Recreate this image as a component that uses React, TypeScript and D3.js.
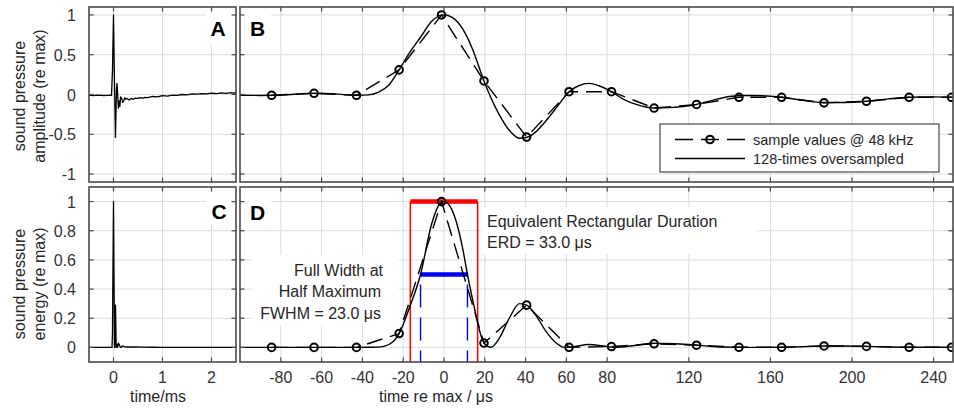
import React from 'react';
import * as d3 from 'd3';

const W = 954;
const H = 411;

// ---- Panel A: full impulse response, amplitude (time in ms)
const impTimeMs = [-0.5, -0.45, -0.4, -0.35, -0.3, -0.25, -0.2, -0.15, -0.1, -0.06, -0.04, -0.021, 0, 0.02, 0.04, 0.06, 0.07, 0.083, 0.1, 0.115, 0.13, 0.145, 0.165, 0.185, 0.21, 0.23, 0.25, 0.28, 0.32, 0.36, 0.4, 0.45, 0.5, 0.55, 0.6, 0.65, 0.7, 0.8, 0.9, 1.0, 1.1, 1.2, 1.3, 1.4, 1.5, 1.6, 1.7, 1.8, 1.9, 2.0, 2.1, 2.2, 2.3, 2.4, 2.45, 2.5];
const impAmp = [-0.012, -0.01, -0.013, -0.008, -0.012, -0.009, -0.013, -0.01, -0.012, -0.008, -0.01, 0.31, 1.0, 0.17, -0.54, 0.03, 0.14, 0.03, -0.17, -0.08, -0.15, -0.03, -0.04, -0.1, -0.08, -0.04, -0.06, -0.05, -0.07, -0.05, -0.06, -0.045, -0.05, -0.038, -0.045, -0.035, -0.04, -0.025, -0.03, -0.015, -0.02, -0.008, -0.012, 0.0, -0.005, 0.008, 0.004, 0.012, 0.008, 0.016, 0.012, 0.02, 0.014, 0.024, 0.016, 0.022];

// ---- Panel C: full impulse response, energy (time in ms)
const engTimeMs = [-0.5, -0.03, -0.021, 0, 0.02, 0.024, 0.04, 0.055, 0.07, 0.083, 0.1, 0.12, 0.14, 0.16, 0.185, 0.21, 0.25, 0.3, 0.4, 0.6, 0.8, 1.0, 2.5];
const engVal = [0, 0, 0.095, 1.0, 0.03, 0.0, 0.29, 0.0, 0.02, 0.001, 0.03, 0.016, 0.002, 0.001, 0.011, 0.007, 0.003, 0.003, 0.003, 0.002, 0.001, 0.0005, 0.0];

// ---- Panels B / D: sample values @ 48 kHz (time re max, µs)
const sampleTimes = [-84.5, -63.7, -42.9, -22.0, -1.2, 19.6, 40.5, 61.3, 82.1, 103.0, 123.8, 144.6, 165.5, 186.3, 207.1, 228.0, 248.8];
const sampleAmp = [-0.01, 0.015, -0.01, 0.31, 1.0, 0.17, -0.535, 0.035, 0.035, -0.17, -0.125, -0.035, -0.035, -0.105, -0.085, -0.035, -0.035];
const sampleEnergy = [0, 0, 0, 0.095, 1.0, 0.03, 0.29, 0.001, 0.006, 0.025, 0.015, 0.001, 0.001, 0.01, 0.007, 0.001, 0.001];

// ---- 128-times oversampled
const osTime = [-100, -90, -84.5, -75, -63.7, -52, -42.9, -37, -32, -27, -22, -17, -11.5, -6, -1.2, 0, 4, 9, 14, 19.6, 23, 27, 32, 37, 40.5, 45, 50, 55, 61.3, 66, 71, 76, 82.1, 88, 95, 103, 110, 117, 123.8, 132, 140, 148, 156, 165.5, 175, 186.3, 196, 207.1, 218, 228, 240, 250];
const osAmp = [-0.01, -0.012, -0.01, 0.0, 0.015, 0.005, -0.01, -0.005, 0.03, 0.12, 0.31, 0.52, 0.72, 0.92, 0.998, 1.0, 0.97, 0.83, 0.57, 0.17, -0.04, -0.25, -0.45, -0.55, -0.54, -0.47, -0.33, -0.17, 0.035, 0.11, 0.14, 0.11, 0.035, -0.06, -0.13, -0.17, -0.165, -0.15, -0.125, -0.07, -0.025, -0.012, -0.015, -0.035, -0.07, -0.1, -0.1, -0.085, -0.055, -0.035, -0.03, -0.035];
const osETime = [-100, -42.9, -36, -32, -27, -22, -17, -11.5, -6, -1.2, 0, 4, 9, 11.5, 14, 19.6, 23, 27, 32, 37, 40.5, 45, 50, 55, 59, 63, 71, 78, 84, 95, 103, 113, 123.8, 135, 150, 165.5, 175, 186.3, 196, 207.1, 218, 228, 250];
const osEnergy = [0, 0, 0.001, 0.002, 0.02, 0.095, 0.27, 0.5, 0.85, 0.997, 1.0, 0.94, 0.69, 0.5, 0.33, 0.03, 0.001, 0.06, 0.2, 0.3, 0.29, 0.22, 0.11, 0.03, 0.0, 0.004, 0.02, 0.01, 0.0, 0.017, 0.029, 0.025, 0.016, 0.003, 0.0, 0.001, 0.005, 0.01, 0.01, 0.007, 0.003, 0.001, 0.001];

// ---- markers of duration
const erdHalf = [-16.5, 16.5];
const fwhmHalf = [-11.5, 11.5];

// ---- ticks
const msTicks = [0, 1, 2];
const usTicks = [-80, -60, -40, -20, 0, 20, 40, 60, 80, 120, 160, 200, 240];
const ampTicks = [-1, -0.5, 0, 0.5, 1];
const ampTickLabels = ['-1', '-0.5', '0', '0.5', '1'];
const engTicks = [0, 0.2, 0.4, 0.6, 0.8, 1];
const engTickLabels = ['0', '0.2', '0.4', '0.6', '0.8', '1'];

const FONT = '"Liberation Sans", Arial, Helvetica, sans-serif';
const GRID = '#dcdcdc';
const FRAME = '#4a4a4a';
const TXT = '#262626';

type Rect = { x0: number; x1: number; y0: number; y1: number };

function Frame({ r, x, y, xt, yt }: { r: Rect; x: any; y: any; xt: number[]; yt: number[] }) {
  const tl = 4.5;
  return (
    <g>
      {xt.map((t) => (
        <g key={'xt' + t}>
          <line x1={x(t)} x2={x(t)} y1={r.y1} y2={r.y1 - tl} stroke={FRAME} strokeWidth={1.2} />
          <line x1={x(t)} x2={x(t)} y1={r.y0} y2={r.y0 + tl} stroke={FRAME} strokeWidth={1.2} />
        </g>
      ))}
      {yt.map((t) => (
        <g key={'yt' + t}>
          <line x1={r.x0} x2={r.x0 + tl} y1={y(t)} y2={y(t)} stroke={FRAME} strokeWidth={1.2} />
          <line x1={r.x1} x2={r.x1 - tl} y1={y(t)} y2={y(t)} stroke={FRAME} strokeWidth={1.2} />
        </g>
      ))}
      <rect x={r.x0} y={r.y0} width={r.x1 - r.x0} height={r.y1 - r.y0} fill="none" stroke={FRAME} strokeWidth={1.6} />
    </g>
  );
}

function Grid({ r, x, y, xt, yt }: { r: Rect; x: any; y: any; xt: number[]; yt: number[] }) {
  return (
    <g>
      {xt.map((t) => (
        <line key={'gx' + t} x1={x(t)} x2={x(t)} y1={r.y0} y2={r.y1} stroke={GRID} strokeWidth={1} />
      ))}
      {yt.map((t) => (
        <line key={'gy' + t} x1={r.x0} x2={r.x1} y1={y(t)} y2={y(t)} stroke={GRID} strokeWidth={1} />
      ))}
    </g>
  );
}

export default function App() {
  const rA: Rect = { x0: 89, x1: 236, y0: 7, y1: 182 };
  const rB: Rect = { x0: 240, x1: 953, y0: 7, y1: 182 };
  const rC: Rect = { x0: 89, x1: 236, y0: 187, y1: 362 };
  const rD: Rect = { x0: 240, x1: 953, y0: 187, y1: 362 };

  const xMs = d3.scaleLinear().domain([-0.5, 2.5]).range([89, 236]);
  const xUs = d3.scaleLinear().domain([-100, 250]).range([240, 954]);
  const yAmp = d3.scaleLinear().domain([-1.1, 1.1]).range([182, 7]);
  const yEng = d3.scaleLinear().domain([-0.1, 1.1]).range([362, 187]);

  const lineA = d3.line<number>().x((_, i) => xMs(impTimeMs[i])).y((d) => yAmp(d));
  const lineC = d3.line<number>().x((_, i) => xMs(engTimeMs[i])).y((d) => yEng(d));
  const sampB = d3.line<number>().x((_, i) => xUs(sampleTimes[i])).y((d) => yAmp(d));
  const sampD = d3.line<number>().x((_, i) => xUs(sampleTimes[i])).y((d) => yEng(d));
  const osB = d3.line<number>().x((_, i) => xUs(osTime[i])).y((d) => yAmp(d)).curve(d3.curveMonotoneX);
  const osD = d3.line<number>().x((_, i) => xUs(osETime[i])).y((d) => yEng(d)).curve(d3.curveMonotoneX);

  const clip = (id: string, r: Rect) => (
    <clipPath id={id}>
      <rect x={r.x0} y={r.y0} width={r.x1 - r.x0} height={r.y1 - r.y0} />
    </clipPath>
  );

  const DASH = '16,8';

  return (
    <svg width={W} height={H} style={{ position: 'absolute', left: 0, top: 0, background: '#fff' }} fontFamily={FONT}>
      <defs>
        {clip('cA', rA)}
        {clip('cB', rB)}
        {clip('cC', rC)}
        {clip('cD', rD)}
      </defs>
      <rect x={0} y={0} width={W} height={H} fill="#fff" />

      {/* grids */}
      <Grid r={rA} x={xMs} y={yAmp} xt={msTicks} yt={ampTicks} />
      <Grid r={rB} x={xUs} y={yAmp} xt={usTicks} yt={ampTicks} />
      <Grid r={rC} x={xMs} y={yEng} xt={msTicks} yt={engTicks} />
      <Grid r={rD} x={xUs} y={yEng} xt={usTicks} yt={engTicks} />

      {/* label boxes */}
      <rect x={206} y={9} width={29} height={36} fill="#fff" />
      <rect x={241} y={9} width={30} height={36} fill="#fff" />
      <rect x={206} y={189} width={29} height={36} fill="#fff" />
      <rect x={241} y={189} width={30} height={36} fill="#fff" />
      <rect x={252} y={255} width={147} height={70} fill="#fff" />
      <rect x={481} y={207} width={276} height={47} fill="#fff" />

      {/* panel A */}
      <g clipPath="url(#cA)">
        <path d={lineA(impAmp) || ''} fill="none" stroke="#000" strokeWidth={1.3} strokeLinejoin="round" />
      </g>

      {/* panel C */}
      <g clipPath="url(#cC)">
        <path d={lineC(engVal) || ''} fill="none" stroke="#000" strokeWidth={1.3} strokeLinejoin="round" />
      </g>

      {/* panel B */}
      <g clipPath="url(#cB)">
        <path d={osB(osAmp) || ''} fill="none" stroke="#000" strokeWidth={1.4} />
        <path d={sampB(sampleAmp) || ''} fill="none" stroke="#000" strokeWidth={1.4} strokeDasharray={DASH} />
        {sampleAmp.map((v, i) => (
          <circle key={'mb' + i} cx={xUs(sampleTimes[i])} cy={yAmp(v)} r={3.8} fill="none" stroke="#000" strokeWidth={2} />
        ))}
      </g>

      {/* panel D */}
      <g clipPath="url(#cD)">
        {/* ERD rectangle */}
        <line x1={xUs(erdHalf[0])} x2={xUs(erdHalf[0])} y1={yEng(1)} y2={rD.y1} stroke="#ff0000" strokeWidth={1.5} />
        <line x1={xUs(erdHalf[1])} x2={xUs(erdHalf[1])} y1={yEng(1)} y2={rD.y1} stroke="#ff0000" strokeWidth={1.5} />
        <line x1={xUs(erdHalf[0])} x2={xUs(erdHalf[1])} y1={yEng(1)} y2={yEng(1)} stroke="#ff0000" strokeWidth={4.5} />
        {/* FWHM */}
        <line x1={xUs(fwhmHalf[0])} x2={xUs(fwhmHalf[0])} y1={yEng(0.5)} y2={rD.y1} stroke="#0000ff" strokeWidth={1.4} strokeDasharray="23,10" strokeDashoffset={23} />
        <line x1={xUs(fwhmHalf[1])} x2={xUs(fwhmHalf[1])} y1={yEng(0.5)} y2={rD.y1} stroke="#0000ff" strokeWidth={1.4} strokeDasharray="23,10" strokeDashoffset={23} />
        <line x1={xUs(fwhmHalf[0])} x2={xUs(fwhmHalf[1])} y1={yEng(0.5)} y2={yEng(0.5)} stroke="#0000ff" strokeWidth={4.5} />

        <path d={osD(osEnergy) || ''} fill="none" stroke="#000" strokeWidth={1.4} />
        <path d={sampD(sampleEnergy) || ''} fill="none" stroke="#000" strokeWidth={1.4} strokeDasharray={DASH} />
        {sampleEnergy.map((v, i) => (
          <circle key={'md' + i} cx={xUs(sampleTimes[i])} cy={yEng(v)} r={3.8} fill="none" stroke="#000" strokeWidth={2} />
        ))}
      </g>

      {/* frames and ticks */}
      <Frame r={rA} x={xMs} y={yAmp} xt={msTicks} yt={ampTicks} />
      <Frame r={rB} x={xUs} y={yAmp} xt={usTicks} yt={ampTicks} />
      <Frame r={rC} x={xMs} y={yEng} xt={msTicks} yt={engTicks} />
      <Frame r={rD} x={xUs} y={yEng} xt={usTicks} yt={engTicks} />

      {/* panel letters */}
      <g fontWeight="bold" fontSize={21} fill="#000">
        <text x={218} y={36} textAnchor="middle">A</text>
        <text x={257.5} y={36} textAnchor="middle">B</text>
        <text x={219} y={219} textAnchor="middle">C</text>
        <text x={257.5} y={220} textAnchor="middle">D</text>
      </g>

      {/* y tick labels */}
      <g fontSize={16} fill="#333" textAnchor="end">
        {ampTicks.map((t, i) => (
          <text key={'ya' + t} x={76} y={yAmp(t)} dy="0.38em">{ampTickLabels[i]}</text>
        ))}
        {engTicks.map((t, i) => (
          <text key={'yc' + t} x={76} y={yEng(t)} dy="0.38em">{engTickLabels[i]}</text>
        ))}
      </g>

      {/* x tick labels */}
      <g fontSize={16} fill="#333" textAnchor="middle">
        {msTicks.map((t) => (
          <text key={'xc' + t} x={xMs(t)} y={383}>{t}</text>
        ))}
        {usTicks.map((t) => (
          <text key={'xd' + t} x={xUs(t)} y={383}>{t}</text>
        ))}
      </g>

      {/* axis labels */}
      <g fontSize={16} fill={TXT} textAnchor="middle">
        <text transform="translate(25,96) rotate(-90)">sound pressure</text>
        <text transform="translate(44.5,96) rotate(-90)">amplitude (re max)</text>
        <text transform="translate(25,284) rotate(-90)">sound pressure</text>
        <text transform="translate(44.5,284) rotate(-90)">energy (re max)</text>
        <text x={158} y={402}>time/ms</text>
        <text x={436} y={402}>time re max / μs</text>
      </g>

      {/* annotations */}
      <g fontSize={16} fill={TXT}>
        <text x={383} y={275.5} textAnchor="end">Full Width at</text>
        <text x={381} y={297} textAnchor="end">Half Maximum</text>
        <text x={381} y={318.5} textAnchor="end">FWHM = 23.0 μs</text>
        <text x={487} y={226.5}>Equivalent Rectangular Duration</text>
        <text x={487} y={247.5}>ERD = 33.0 μs</text>
      </g>

      {/* legend */}
      <g>
        <rect x={660} y={124} width={279} height={48} fill="#fff" stroke="#262626" strokeWidth={1} />
        <line x1={675} x2={745} y1={139.5} y2={139.5} stroke="#000" strokeWidth={1.4} strokeDasharray="18,8" />
        <circle cx={710} cy={139.5} r={3.8} fill="none" stroke="#000" strokeWidth={2} />
        <line x1={675} x2={745} y1={158.5} y2={158.5} stroke="#000" strokeWidth={1.4} />
        <g fontSize={14.5} fill={TXT}>
          <text x={753} y={144.5}>sample values @ 48 kHz</text>
          <text x={753} y={163.5}>128-times oversampled</text>
        </g>
      </g>
    </svg>
  );
}
